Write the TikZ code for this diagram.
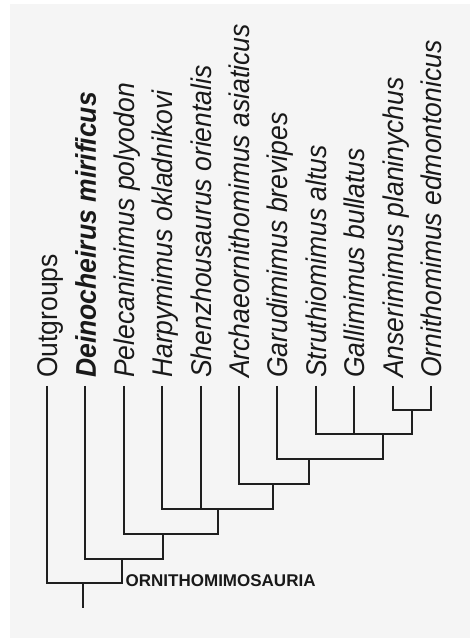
\documentclass[tikz,border=0pt]{standalone}
\usepackage{fontspec}
\setmainfont{Liberation Sans}
\newfontfamily\taxfont[FakeStretch=0.93]{Liberation Sans}
\begin{document}
\begin{tikzpicture}[x=1pt,y=1pt,
  branch/.style={draw=black!88, line width=2pt, line join=miter},
  taxon/.style={rotate=90, anchor=base west, inner sep=0pt, text=black!90,
    font=\taxfont\fontsize{28.5}{32}\selectfont\itshape},
  grp/.style={anchor=base west, inner sep=0pt, text=black!90,
    font=\fontsize{17}{20}\selectfont\bfseries}]
\useasboundingbox (0,0) rectangle (470,639);
\fill[white] (0,0) rectangle (470,639);
\fill[black!4] (10,1) rectangle (470,635);
% tips
\coordinate (tOut) at (47,253);
\coordinate (tD) at (85.4,253);
\coordinate (tP) at (123.8,253);
\coordinate (tH) at (162.2,253);
\coordinate (tSh) at (200.6,253);
\coordinate (tAr) at (239,253);
\coordinate (tGa) at (277.4,253);
\coordinate (tS) at (315.8,253);
\coordinate (tG) at (354.2,253);
\coordinate (tA) at (392.6,253);
\coordinate (tO) at (431,253);
% internal nodes
\coordinate (nAO) at (412,229);
\coordinate (nSG) at (383,204.5);
\coordinate (nGa) at (309,179.5);
\coordinate (nAr) at (273,154.5);
\coordinate (nH) at (218,130);
\coordinate (nP) at (163,105);
\coordinate (nD) at (122,80);
\coordinate (nR) at (83,56);
\coordinate (root) at (83,31);
% labels
\node[taxon, font=\taxfont\fontsize{28.5}{32}\selectfont\upshape] (lOut) at (57.5,261) {Outgroups};
\node[taxon, font=\taxfont\fontsize{28.5}{32}\selectfont\bfseries\itshape] (lD) at (95.9,261) {Deinocheirus mirificus};
\node[taxon] (lP) at (134.3,261) {Pelecanimimus polyodon};
\node[taxon] (lH) at (172.7,261) {Harpymimus okladnikovi};
\node[taxon] (lSh) at (211.1,261) {Shenzhousaurus orientalis};
\node[taxon] (lAr) at (249.5,261) {Archaeornithomimus asiaticus};
\node[taxon] (lGa) at (287.9,261) {Garudimimus brevipes};
\node[taxon] (lS) at (326.3,261) {Struthiomimus altus};
\node[taxon] (lG) at (364.7,261) {Gallimimus bullatus};
\node[taxon] (lA) at (403.1,261) {Anserimimus planinychus};
\node[taxon] (lO) at (441.5,261) {Ornithomimus edmontonicus};
\node[grp] (lOrn) at (125.5,52) {ORNITHOMIMOSAURIA};
% branches
\draw[branch] (tA) |- (nAO) -| (tO);
\draw[branch] (tS) |- (nSG) -| (nAO);
\draw[branch] (tG) -- (tG |- nSG);
\draw[branch] (tGa) |- (nGa) -| (nSG);
\draw[branch] (tAr) |- (nAr) -| (nGa);
\draw[branch] (tH) |- (nH) -| (nAr);
\draw[branch] (tSh) -- (tSh |- nH);
\draw[branch] (tP) |- (nP) -| (nH);
\draw[branch] (tD) |- (nD) -| (nP);
\draw[branch] (tOut) |- (nR) -| (nD);
\draw[branch] (nR) -- (root);
\end{tikzpicture}
\end{document}
